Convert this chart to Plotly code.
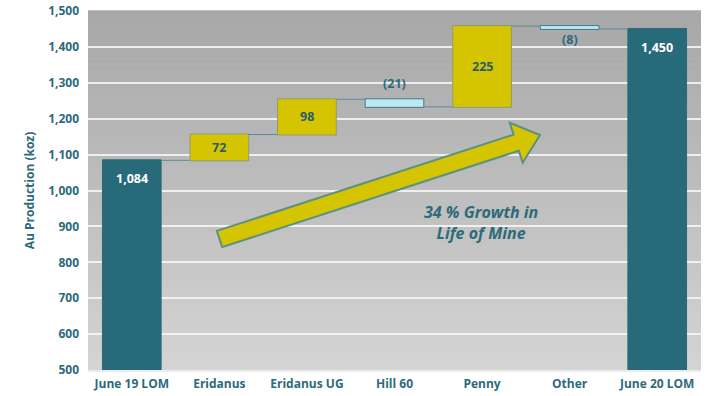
import plotly.graph_objects as go
import numpy as np

categories = ["June 19 LOM", "Eridanus", "Eridanus UG", "Hill 60", "Penny", "Other", "June 20 LOM"]
values = [1084, 72, 98, -21, 225, -8, 1450]
measures = ["absolute", "relative", "relative", "relative", "relative", "relative", "total"]
labels = ["1,084", "72", "98", "(21)", "225", "(8)", "1,450"]
y_ticks = [500, 600, 700, 800, 900, 1000, 1100, 1200, 1300, 1400, 1500]

TEAL = "#276a7a"
TEXT_TEAL = "#2d6a7a"
YELLOW = "#d5c400"
LIGHTBLUE = "#bde9f7"
FONT = "Open Sans"

W, H = 712, 396
ML, MR, MT, MB = 88, 11, 11, 26

fig = go.Figure()
fig.add_trace(go.Waterfall(
    x=categories, y=values, measure=measures,
    base=0,
    textposition="none",
    width=0.67,
    increasing=dict(marker=dict(color=YELLOW, line=dict(color="#8e9e74", width=1))),
    decreasing=dict(marker=dict(color=LIGHTBLUE, line=dict(color="#3f7a88", width=1))),
    totals=dict(marker=dict(color=TEAL, line=dict(color=TEAL, width=1))),
    connector=dict(mode="between", line=dict(color="#5f8c96", width=1)),
    showlegend=False,
))

annotations = []
running = 0
for cat, v, m, lab in zip(categories, values, measures, labels):
    if m == "absolute":
        start, end = 0, v
        running = v
    elif m == "total":
        start, end = 0, running
    else:
        start, end = running, running + v
        running = running + v
    if m in ("absolute", "total"):
        annotations.append(dict(x=cat, y=end, text=lab, showarrow=False, yanchor="top", yshift=-8,
                                font=dict(family=FONT, size=12.5, color="white", weight="bold")))
    elif v > 0:
        annotations.append(dict(x=cat, y=(start + end) / 2, text=lab, showarrow=False, yanchor="middle",
                                font=dict(family=FONT, size=12.5, color="#2b5e68", weight="bold")))
    elif v < -10:
        annotations.append(dict(x=cat, y=start, text=lab, showarrow=False, yanchor="bottom", yshift=5,
                                font=dict(family=FONT, size=12.5, color=TEXT_TEAL, weight="bold")))
    else:
        annotations.append(dict(x=cat, y=end, text=lab, showarrow=False, yanchor="top", yshift=0,
                                font=dict(family=FONT, size=12.5, color=TEXT_TEAL, weight="bold")))

annotations.append(dict(xref="paper", yref="paper", x=(481 - ML) / (W - ML - MR), y=(H - MB - 222) / (H - MT - MB),
                        text="<i>34 % Growth in<br>Life of Mine</i>", showarrow=False,
                        align="center", xanchor="center", yanchor="middle",
                        font=dict(family=FONT, size=16, color=TEXT_TEAL, weight="bold")))

shapes = []
N = 60
top = np.array([168, 168, 168])
bot = np.array([212, 212, 212])
for i in range(N):
    t = i / (N - 1)
    c = (bot + (top - bot) * t).astype(int)
    shapes.append(dict(type="rect", xref="x domain", yref="y domain", x0=0, x1=1,
                       y0=i / N, y1=(i + 1) / N + 0.002, fillcolor=f"rgb({c[0]},{c[1]},{c[2]})",
                       line=dict(width=0), layer="below"))

pw, ph = W - ML - MR, H - MT - MB
def to_paper(p):
    return ((p[0] - ML) / pw, (H - MB - p[1]) / ph)
T = np.array([219.5, 239.0]); P = np.array([540.0, 135.0])
L = np.linalg.norm(P - T); u = (P - T) / L; n = np.array([-u[1], u[0]])
sw, hw, hl = 8.5, 21.0, 25.0
B = T + u * (L - hl)
pts = [T + n * sw, B + n * sw, B + n * hw, P, B - n * hw, B - n * sw, T - n * sw]
pp = [to_paper(p) for p in pts]
path = "M " + " L ".join(f"{x:.4f},{y:.4f}" for x, y in pp) + " Z"
shapes.append(dict(type="path", xref="paper", yref="paper", path=path,
                   fillcolor=YELLOW, line=dict(color="#5c9080", width=2), layer="above"))

fig.update_layout(
    width=W, height=H,
    margin=dict(l=ML, r=MR, t=MT, b=MB, autoexpand=False),
    paper_bgcolor="white", plot_bgcolor="rgba(0,0,0,0)",
    shapes=shapes, annotations=annotations,
    font=dict(family=FONT, color=TEXT_TEAL),
)
fig.update_xaxes(showgrid=False, showline=True, linecolor="#ececec", linewidth=1.5, automargin=False,
                 tickfont=dict(family=FONT, size=12, color=TEXT_TEAL, weight="bold"),
                 ticks="", ticklabelstandoff=2)
fig.update_yaxes(range=[500, 1500], tickvals=y_ticks, tickformat=",", automargin=False,
                 showgrid=True, gridcolor="rgba(245,245,245,0.9)", gridwidth=1.5,
                 zeroline=False, ticks="", ticklabelstandoff=8,
                 tickfont=dict(family=FONT, size=12, color=TEXT_TEAL, weight="bold"),
                 title=dict(text="Au Production (koz)", standoff=10,
                            font=dict(family=FONT, size=12, color=TEXT_TEAL, weight="bold")))

fig.write_html("out.html")
